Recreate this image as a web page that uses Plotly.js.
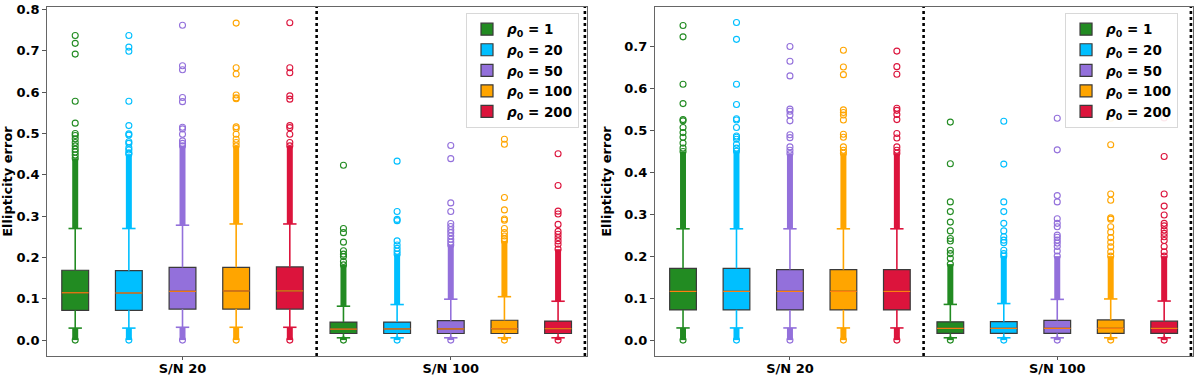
<!DOCTYPE html>
<html>
<head>
<meta charset="utf-8">
<script src="https://cdn.plot.ly/plotly-3.0.1.min.js"></script>
<style>
  html, body { margin: 0; padding: 0; background: #fff; }
  #plot { width: 1200px; height: 378px; }
</style>
</head>
<body>
<div id="plot"></div>
<script>
const colors = ['#228b22', '#00bfff', '#9370db', '#ffa500', '#dc143c'];
const rhoValues = ['1', '20', '50', '100', '200'];
const groupLabels = ['S/N 20', 'S/N 100'];
const groupPositions = [0, 1];
const offsets = [-0.4, -0.2, 0, 0.2, 0.4];

// left panel, [series][S/N 20, S/N 100]
const leftQ1 = [[0.072, 0.016], [0.072, 0.016], [0.075, 0.016], [0.075, 0.016], [0.075, 0.016]];
const leftMedian = [[0.1145, 0.0266], [0.114, 0.027], [0.118, 0.027], [0.119, 0.0275], [0.119, 0.0275]];
const leftQ3 = [[0.169, 0.0436], [0.168, 0.0436], [0.176, 0.047], [0.176, 0.048], [0.177, 0.046]];
const leftWhiskerLow = [[0.029, 0.0056], [0.029, 0.0056], [0.031, 0.0056], [0.031, 0.0056], [0.031, 0.0056]];
const leftWhiskerHigh = [[0.270, 0.082], [0.270, 0.086], [0.278, 0.099], [0.281, 0.105], [0.281, 0.094]];
const leftDenseHigh = [[0.44, 0.182], [0.45, 0.208], [0.47, 0.23], [0.47, 0.24], [0.47, 0.22]];
const leftOutliers20 = [
    [0.737, 0.718, 0.692, 0.578, 0.525, 0.50, 0.495, 0.487, 0.478, 0.47, 0.462, 0.455, 0.448],
    [0.737, 0.709, 0.699, 0.578, 0.519, 0.499, 0.496, 0.48, 0.476, 0.465, 0.46, 0.453],
    [0.762, 0.664, 0.654, 0.587, 0.577, 0.515, 0.511, 0.498, 0.482, 0.476],
    [0.767, 0.659, 0.644, 0.593, 0.586, 0.584, 0.516, 0.512, 0.498, 0.486, 0.478],
    [0.768, 0.659, 0.647, 0.591, 0.583, 0.519, 0.514, 0.498, 0.478],
];
const leftOutliers100 = [
    [0.423, 0.270, 0.26, 0.237, 0.216, 0.208, 0.202, 0.19],
    [0.433, 0.311, 0.292, 0.289, 0.24, 0.23, 0.222, 0.215],
    [0.471, 0.439, 0.332, 0.311, 0.282, 0.275, 0.267, 0.26, 0.252, 0.244, 0.237],
    [0.486, 0.474, 0.345, 0.315, 0.293, 0.29, 0.27, 0.26, 0.252, 0.245],
    [0.451, 0.374, 0.312, 0.305, 0.28, 0.263, 0.256, 0.248, 0.24, 0.232],
];

// right panel
const rightQ1 = [[0.072, 0.016], [0.072, 0.016], [0.072, 0.016], [0.072, 0.016], [0.072, 0.016]];
const rightMedian = [[0.116, 0.028], [0.116, 0.028], [0.116, 0.028], [0.116, 0.028], [0.116, 0.028]];
const rightQ3 = [[0.171, 0.0436], [0.171, 0.044], [0.168, 0.047], [0.168, 0.048], [0.168, 0.045]];
const rightWhiskerLow = [[0.029, 0.0056], [0.029, 0.0056], [0.029, 0.0056], [0.029, 0.0056], [0.029, 0.0056]];
const rightWhiskerHigh = [[0.265, 0.085], [0.265, 0.087], [0.265, 0.097], [0.265, 0.098], [0.265, 0.093]];
const rightDenseHigh = [[0.449, 0.181], [0.45, 0.2], [0.444, 0.2], [0.445, 0.2], [0.445, 0.2]];
const rightOutliers20 = [
    [0.749, 0.722, 0.609, 0.563, 0.525, 0.522, 0.506, 0.494, 0.483, 0.469, 0.457],
    [0.756, 0.716, 0.609, 0.561, 0.527, 0.524, 0.506, 0.486, 0.483, 0.478, 0.466, 0.457],
    [0.699, 0.664, 0.629, 0.55, 0.545, 0.536, 0.522, 0.489, 0.482, 0.46, 0.452],
    [0.69, 0.65, 0.632, 0.548, 0.542, 0.536, 0.524, 0.49, 0.483, 0.46, 0.452],
    [0.688, 0.651, 0.633, 0.552, 0.547, 0.537, 0.525, 0.492, 0.481, 0.46, 0.452],
];
const rightOutliers100 = [
    [0.519, 0.42, 0.329, 0.306, 0.281, 0.26, 0.242, 0.236, 0.214, 0.206, 0.195],
    [0.521, 0.419, 0.329, 0.306, 0.278, 0.26, 0.246, 0.238, 0.232, 0.214, 0.206],
    [0.528, 0.453, 0.344, 0.329, 0.289, 0.278, 0.27, 0.25, 0.245, 0.238, 0.231, 0.223, 0.212],
    [0.528, 0.465, 0.348, 0.333, 0.291, 0.288, 0.27, 0.257, 0.244, 0.233, 0.222, 0.21],
    [0.529, 0.437, 0.348, 0.319, 0.298, 0.278, 0.272, 0.262, 0.254, 0.246, 0.237, 0.223, 0.21],
];

const font = 'DejaVu Sans, sans-serif';
const boxWidth = 0.1;
const capHalf = 0.025;

function buildPanel(p, xa, ya, legendId) {
    const boxes = [];
    const extras = [];
    colors.forEach((colour, s) => {
        const xs = groupPositions.map(g => g + offsets[s]);
        boxes.push({
            type: 'box',
            orientation: 'v',
            name: '<b><i>ρ</i><sub>0</sub> = ' + rhoValues[s] + '</b>',
            x: xs,
            q1: p.q1[s],
            median: p.median[s],
            q3: p.q3[s],
            lowerfence: p.q1[s],
            upperfence: p.q3[s],
            width: boxWidth,
            whiskerwidth: 0,
            fillcolor: colour,
            line: {color: '#3a3a3a', width: 1.2},
            boxpoints: false,
            xaxis: xa, yaxis: ya,
            legend: legendId,
            hoverinfo: 'skip',
        });

        const wx = [], wy = [], dx = [], dy = [], mx = [], my = [], ox = [], oy = [];
        xs.forEach((x, g) => {
            wx.push(x, x, null, x, x, null,
                x - capHalf, x + capHalf, null, x - capHalf, x + capHalf, null);
            wy.push(p.q3[s][g], p.whiskerHigh[s][g], null, p.q1[s][g], p.whiskerLow[s][g], null,
                p.whiskerHigh[s][g], p.whiskerHigh[s][g], null, p.whiskerLow[s][g], p.whiskerLow[s][g], null);
            dx.push(x, x, null, x, x, null);
            dy.push(p.whiskerHigh[s][g], p.denseHigh[s][g], null, 0, p.whiskerLow[s][g], null);
            mx.push(x - boxWidth / 2, x + boxWidth / 2, null);
            my.push(p.median[s][g], p.median[s][g], null);
            const outs = g === 0 ? p.out20[s] : p.out100[s];
            outs.concat([p.denseHigh[s][g], 0]).forEach(v => { ox.push(x); oy.push(v); });
        });

        extras.push({
            type: 'scatter', mode: 'lines', x: dx, y: dy,
            line: {color: colour, width: 6},
            xaxis: xa, yaxis: ya, showlegend: false, hoverinfo: 'skip',
        });
        extras.push({
            type: 'scatter', mode: 'lines', x: wx, y: wy,
            line: {color: colour, width: 1.6},
            xaxis: xa, yaxis: ya, showlegend: false, hoverinfo: 'skip',
        });
        extras.push({
            type: 'scatter', mode: 'markers', x: ox, y: oy,
            marker: {symbol: 'circle-open', size: 6, color: colour, line: {width: 1.1, color: colour}},
            xaxis: xa, yaxis: ya, showlegend: false, hoverinfo: 'skip',
        });
        extras.push({
            type: 'scatter', mode: 'lines', x: mx, y: my,
            line: {color: '#ff7f0e', width: 1.2},
            xaxis: xa, yaxis: ya, showlegend: false, hoverinfo: 'skip',
        });
    });
    return boxes.concat(extras);
}

const leftPanel = {
    q1: leftQ1, median: leftMedian, q3: leftQ3,
    whiskerLow: leftWhiskerLow, whiskerHigh: leftWhiskerHigh, denseHigh: leftDenseHigh,
    out20: leftOutliers20, out100: leftOutliers100,
};
const rightPanel = {
    q1: rightQ1, median: rightMedian, q3: rightQ3,
    whiskerLow: rightWhiskerLow, whiskerHigh: rightWhiskerHigh, denseHigh: rightDenseHigh,
    out20: rightOutliers20, out100: rightOutliers100,
};

const data = buildPanel(leftPanel, 'x', 'y', 'legend')
    .concat(buildPanel(rightPanel, 'x2', 'y2', 'legend2'));

const tickFont = {family: font, size: 13, color: '#000', weight: 'bold'};

function xAxis(domain, anchor) {
    return {
        domain, anchor,
        range: [-0.505, 1.508],
        tickvals: groupPositions,
        ticktext: groupLabels.map(t => '<b>' + t + '</b>'),
        tickfont: tickFont,
        ticks: 'outside', ticklen: 3, tickcolor: '#555',
        ticklabelstandoff: -3,
        showline: true, mirror: true, linecolor: '#666', linewidth: 1,
        showgrid: false, zeroline: false,
    };
}

function yAxis(range, anchor) {
    return {
        anchor, range,
        dtick: 0.1, tick0: 0, tickformat: '.1f',
        tickfont: tickFont,
        ticks: 'outside', ticklen: 4, tickcolor: '#555',
        showline: true, mirror: true, linecolor: '#666', linewidth: 1,
        showgrid: false, zeroline: false,
        title: {text: '<b>Ellipticity error</b>', font: {family: font, size: 13, color: '#000'}, standoff: 9},
    };
}

function dotted(xref) {
    return [0.5, 1.5].map(x => ({
        type: 'line', xref, yref: xref.replace('x', 'y') + ' domain',
        x0: x, x1: x, y0: 0, y1: 1,
        line: {color: '#000', width: 2.6, dash: 'dot'},
    }));
}

function legendBox(x) {
    return {
        x, xanchor: 'right', y: 0.983, yanchor: 'top',
        bgcolor: 'rgba(255,255,255,0.9)', bordercolor: '#d8d8d8', borderwidth: 1,
        font: {family: font, size: 13.5, color: '#000'},
        tracegroupgap: 0,
    };
}

const layout = {
    width: 1200, height: 378,
    margin: {l: 0, r: 0, t: 7, b: 22},
    paper_bgcolor: '#fff', plot_bgcolor: '#fff',
    xaxis: xAxis([0.0392, 0.4892], 'y'),
    yaxis: yAxis([-0.0385, 0.806], 'x'),
    xaxis2: xAxis([0.5458, 0.9942], 'y2'),
    yaxis2: yAxis([-0.0378, 0.793], 'x2'),
    legend: legendBox(0.4825),
    legend2: legendBox(0.9817),
    shapes: dotted('x').concat(dotted('x2')),
    showlegend: true,
};

Plotly.newPlot('plot', data, layout, {displayModeBar: false, staticPlot: true});
</script>
</body>
</html>
